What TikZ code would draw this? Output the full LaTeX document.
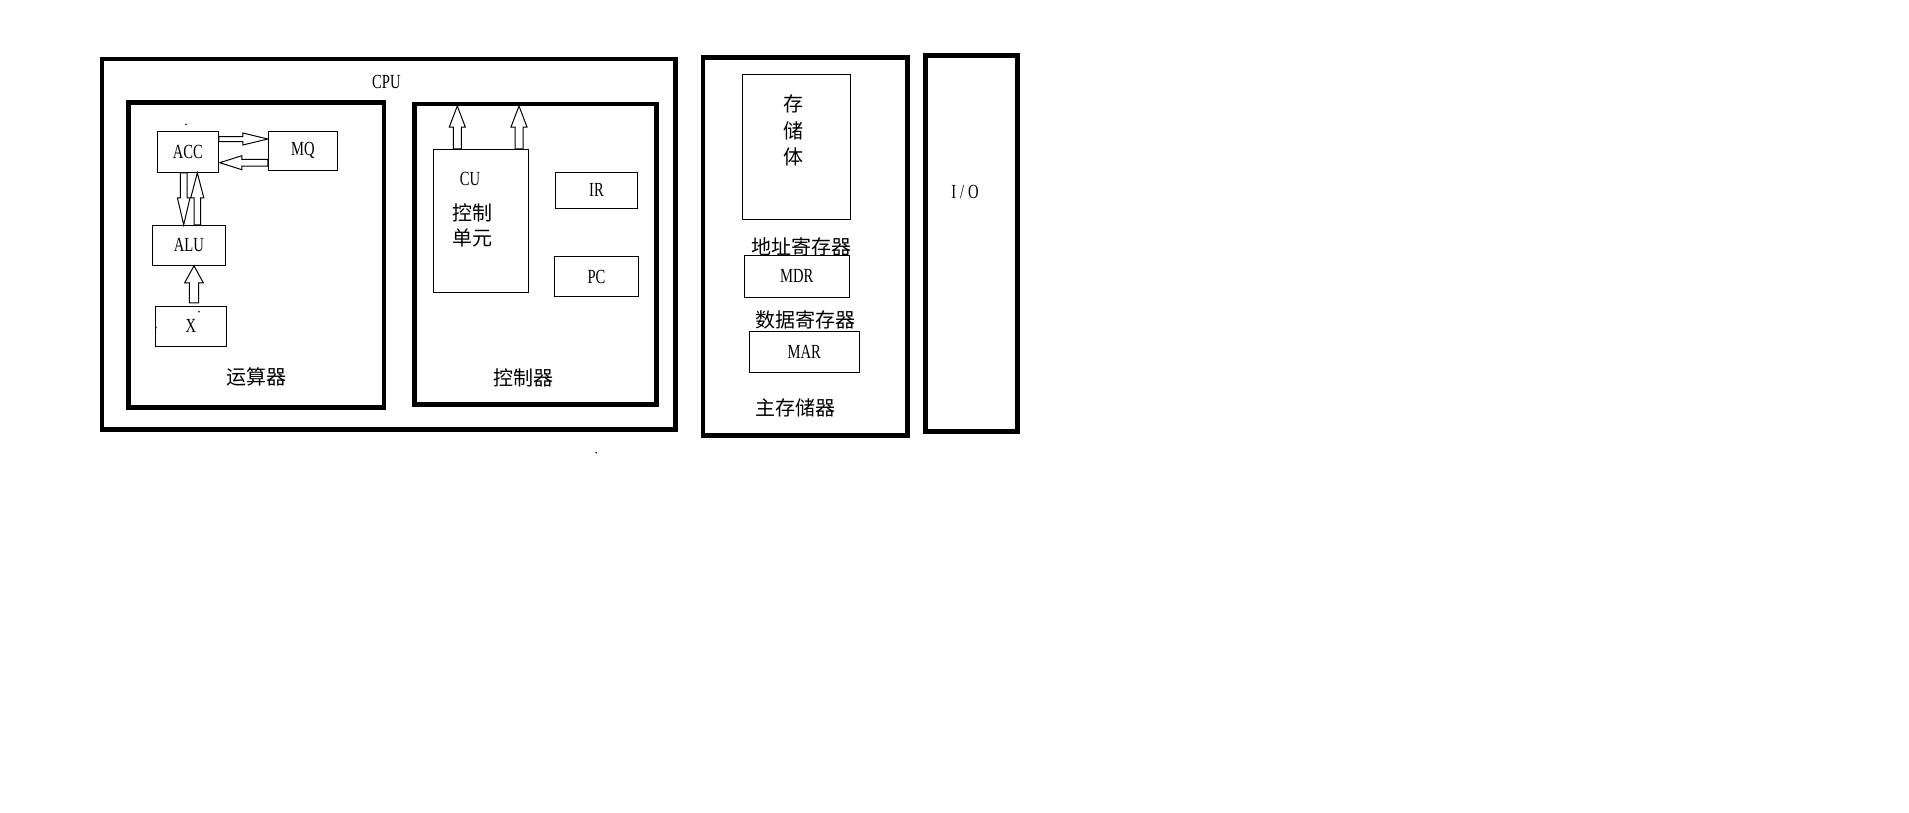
\documentclass[tikz,border=0pt]{standalone}
\usepackage{fontspec}
\setmainfont{Liberation Serif}[FakeStretch=0.73]
\newfontfamily\cjk{Noto Sans CJK SC}
\usetikzlibrary{calc}

% hollow block arrow: from, to, half shaft, half head, head length
\newcommand{\hollowarrow}[5]{%
  \coordinate (ha-s) at (#1);
  \coordinate (ha-e) at (#2);
  \coordinate (ha-b) at ($(ha-e)!#5!(ha-s)$);
  \draw[line width=1pt,fill=white] ($(ha-s)!#3!90:(ha-e)$) -- ($(ha-b)!#3!90:(ha-e)$)
    -- ($(ha-b)!#4!90:(ha-e)$) -- (ha-e) -- ($(ha-b)!#4!-90:(ha-e)$)
    -- ($(ha-b)!#3!-90:(ha-e)$) -- ($(ha-s)!#3!-90:(ha-e)$) -- cycle;}

\begin{document}
\begin{tikzpicture}[x=1pt,y=-1pt,
    unit/.style={draw,line width=4.6pt,inner sep=0pt},
    reg/.style={draw,line width=1pt,inner sep=0pt,font=\fontsize{20}{24}\selectfont},
    zh/.style={font=\cjk\fontsize{20}{25}\selectfont,inner sep=0pt,align=center},
    en/.style={font=\fontsize{20}{24}\selectfont,inner sep=0pt}]

  \useasboundingbox (0,0) rectangle (1909,812);

  \begin{scope}[every node/.style={unit}]
    \node[minimum width=573.7pt,minimum height=370.7pt] (cpu)   at (388.85,244.35) {};
    \node[minimum width=255.5pt,minimum height=304.8pt] (arith) at (256.35,254.85) {};
    \node[minimum width=242pt,minimum height=300.7pt]   (ctrl)  at (535.5,254.15)  {};
    \node[minimum width=204.4pt,minimum height=378.3pt] (mem)   at (805,246.35)    {};
    \node[minimum width=91.7pt,minimum height=375.7pt]  (io)    at (971.35,243.35) {};
  \end{scope}

  \begin{scope}[every node/.style={reg}]
    \node[minimum width=61pt,minimum height=41pt]       (acc)  at (187.8,151.8) {ACC};
    \node[minimum width=69pt,minimum height=39pt]       (mq)   at (302.8,150.8) {MQ};
    \node[minimum width=73pt,minimum height=40pt]       (alu)  at (188.8,245.3) {ALU};
    \node[minimum width=71pt,minimum height=40pt]       (xreg) at (190.8,326.3) {X};
    \node[minimum width=95pt,minimum height=143pt]      (cu)   at (480.8,220.8) {};
    \node[minimum width=82.4pt,minimum height=36pt]     (ir)   at (596.5,190.3) {IR};
    \node[minimum width=84.4pt,minimum height=40.4pt]   (pc)   at (596.5,276.5) {PC};
    \node[minimum width=108.4pt,minimum height=145pt]   (bank) at (796.5,146.8) {};
    \node[minimum width=105pt,minimum height=42pt]      (mdr)  at (796.8,276.3) {MDR};
    \node[minimum width=110pt,minimum height=41pt]      (mar)  at (804.3,351.8) {MAR};
  \end{scope}

  \coordinate (cuout1) at (457.3,106);
  \coordinate (cuout2) at (519,106);

  \hollowarrow{$(acc.east)+(0,-12.8)$}{$(mq.west)+(0,-11.8)$}{2.5pt}{6pt}{25pt}
  \hollowarrow{$(mq.west)+(0,11.9)$}{$(acc.east)+(1,10.9)$}{3.3pt}{7pt}{22pt}
  \hollowarrow{$(acc.south)+(-4.1,0)$}{$(alu.north)+(-5.1,0)$}{3.3pt}{6.3pt}{27pt}
  \hollowarrow{$(alu.north)+(8.5,0)$}{$(acc.south)+(9.5,0)$}{3.2pt}{6.5pt}{25pt}
  \hollowarrow{$(xreg.north)+(3.2,-3)$}{$(alu.south)+(5.2,0)$}{4.7pt}{9.3pt}{17pt}
  \hollowarrow{$(cu.north)+(-23.5,0)$}{cuout1}{4pt}{8pt}{21pt}
  \hollowarrow{$(cu.north)+(38.2,0)$}{cuout2}{4pt}{8pt}{21pt}

  \node[en] (cpu-l)  at (386.4,81.7)  {CPU};
  \node[en] (cu-l)   at (470,179.3)   {CU};
  \node[en] (io-l)   at (965,191.7)   {I\hspace{4pt}/\hspace{4pt}O};

  \node[zh] (arith-l) at (256.7,376.7) {运算器};
  \node[zh] (ctrl-l)  at (523.3,378.3) {控制器};
  \node[zh] (cu-zh)   at (472.7,225.8) {控制\\单元};
  \node[zh,font=\cjk\fontsize{20}{26.2}\selectfont] (bank-l) at (793.3,130.5) {存\\储\\体};
  \node[zh] (addr-l)  at (801,247.3)   {地址寄存器};
  \node[zh] (data-l)  at (805,320)     {数据寄存器};
  \node[zh] (mem-l)   at (795.3,408.3) {主存储器};

  % stray dots
  \fill (186,124.3) circle (0.9pt);
  \fill (199,311.7) circle (0.9pt);
  \fill (156,327.7) circle (0.9pt);
  \fill (596.3,452.7) circle (0.9pt);

\end{tikzpicture}
\end{document}
